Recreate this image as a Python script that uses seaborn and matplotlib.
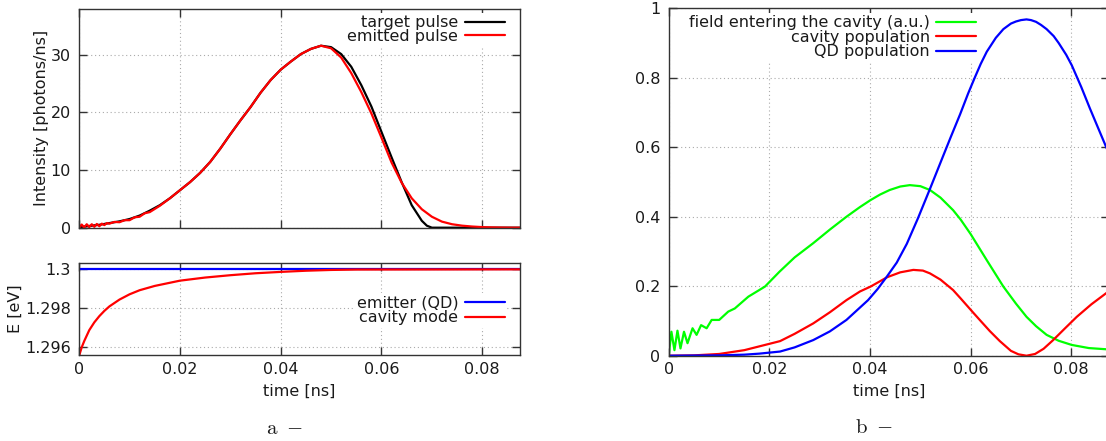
import matplotlib.pyplot as plt
import seaborn as sns

# ---- panel a (top): intensity of target / emitted pulse ----
t_target = [0, 0.002, 0.004, 0.006, 0.008, 0.010, 0.012, 0.014, 0.016, 0.018,
            0.020, 0.022, 0.024, 0.026, 0.028, 0.030, 0.032, 0.034, 0.036, 0.038,
            0.040, 0.042, 0.044, 0.046, 0.048, 0.050, 0.052, 0.054, 0.056, 0.058,
            0.060, 0.062, 0.064, 0.066, 0.068, 0.069, 0.070, 0.0875]
i_target = [0.1, 0.3, 0.5, 0.8, 1.1, 1.5, 2.1, 2.95, 3.9, 5.1,
            6.5, 7.9, 9.5, 11.4, 13.7, 16.2, 18.6, 20.9, 23.4, 25.6,
            27.4, 28.8, 30.1, 31.0, 31.55, 31.3, 30.1, 27.9, 24.7, 21.0,
            16.6, 12.2, 7.9, 3.9, 1.2, 0.35, 0.0, 0.0]

t_emit = [0, 0.0005, 0.001, 0.0015, 0.002, 0.0025, 0.003, 0.0035, 0.004, 0.0045,
          0.005, 0.0055, 0.006, 0.007, 0.008, 0.009, 0.010, 0.011, 0.012, 0.013,
          0.014, 0.016, 0.018, 0.020, 0.022, 0.024, 0.026, 0.028, 0.030, 0.032,
          0.034, 0.036, 0.038, 0.040, 0.042, 0.044, 0.046, 0.048, 0.050, 0.052,
          0.054, 0.056, 0.058, 0.060, 0.062, 0.064, 0.066, 0.068, 0.070, 0.072,
          0.074, 0.076, 0.078, 0.080, 0.082, 0.084, 0.086, 0.0875]
i_emit = [0.0, 0.55, 0.05, 0.6, 0.1, 0.6, 0.15, 0.65, 0.25, 0.7,
          0.45, 0.8, 0.7, 1.0, 0.95, 1.3, 1.3, 1.8, 1.9, 2.5,
          2.7, 3.8, 5.1, 6.5, 7.9, 9.5, 11.4, 13.7, 16.2, 18.6,
          20.9, 23.4, 25.6, 27.4, 28.8, 30.1, 31.0, 31.55, 31.1, 29.5,
          26.8, 23.5, 19.8, 15.6, 11.3, 7.8, 5.1, 3.2, 1.9, 1.05,
          0.6, 0.35, 0.2, 0.1, 0.05, 0.02, 0.0, 0.0]

# ---- panel a (bottom): energies ----
t_qd = [0, 0.0875]
e_qd = [1.3, 1.3]
t_mode = [0, 0.0005, 0.001, 0.002, 0.003, 0.004, 0.005, 0.006, 0.008, 0.010,
          0.012, 0.015, 0.020, 0.025, 0.030, 0.035, 0.040, 0.045, 0.050, 0.055, 0.0875]
e_mode = [1.29558, 1.29600, 1.29632, 1.29688, 1.29728, 1.29760, 1.29787, 1.29810, 1.29845, 1.29872,
          1.29893, 1.29915, 1.29942, 1.29958, 1.29970, 1.29980, 1.29987, 1.29993, 1.29997, 1.29999, 1.3]

# ---- panel b: populations ----
t_field = [0, 0.0005, 0.0011, 0.0017, 0.0023, 0.003, 0.0037, 0.0047, 0.0055, 0.0064,
           0.0075, 0.0085, 0.010, 0.0118, 0.0131, 0.0158, 0.0191, 0.022, 0.025, 0.0287,
           0.032, 0.0353, 0.038, 0.0401, 0.042, 0.0439, 0.046, 0.0479, 0.050, 0.0519,
           0.054, 0.0565, 0.058, 0.060, 0.0632, 0.0665, 0.069, 0.0711, 0.073, 0.0751,
           0.0775, 0.0801, 0.0835, 0.0875]
v_field = [0.005, 0.069, 0.016, 0.072, 0.021, 0.069, 0.036, 0.079, 0.060, 0.088,
           0.079, 0.103, 0.103, 0.127, 0.136, 0.170, 0.199, 0.242, 0.283, 0.324,
           0.363, 0.400, 0.428, 0.448, 0.464, 0.477, 0.487, 0.491, 0.488, 0.477,
           0.455, 0.419, 0.392, 0.350, 0.275, 0.199, 0.150, 0.112, 0.085, 0.060,
           0.043, 0.031, 0.022, 0.018]

t_cav = [0, 0.005, 0.010, 0.015, 0.0191, 0.0221, 0.025, 0.0287, 0.032, 0.0353,
         0.038, 0.0401, 0.0434, 0.046, 0.0486, 0.0505, 0.0519, 0.054, 0.0565, 0.058,
         0.0605, 0.0618, 0.0638, 0.0658, 0.068, 0.0695, 0.0711, 0.0728, 0.0745, 0.0764,
         0.0787, 0.0811, 0.084, 0.0875]
v_cav = [0.0, 0.001, 0.005, 0.016, 0.031, 0.042, 0.063, 0.093, 0.125, 0.160,
         0.185, 0.199, 0.226, 0.240, 0.247, 0.245, 0.237, 0.219, 0.189, 0.165,
         0.124, 0.103, 0.071, 0.042, 0.014, 0.004, 0.0, 0.005, 0.020, 0.045,
         0.078, 0.112, 0.148, 0.186]

t_pop = [0, 0.010, 0.015, 0.018, 0.0221, 0.025, 0.0287, 0.032, 0.0353, 0.0396,
         0.0415, 0.0433, 0.0453, 0.0473, 0.0495, 0.0519, 0.0545, 0.056, 0.0579, 0.0595,
         0.0608, 0.062, 0.0632, 0.065, 0.0665, 0.068, 0.069, 0.070, 0.0711, 0.072,
         0.073, 0.074, 0.0751, 0.0765, 0.0775, 0.079, 0.0801, 0.082, 0.0837, 0.0855,
         0.0869, 0.0875]
v_pop = [0.0, 0.001, 0.003, 0.006, 0.012, 0.024, 0.045, 0.070, 0.103, 0.160,
         0.192, 0.227, 0.268, 0.322, 0.395, 0.480, 0.574, 0.628, 0.695, 0.755,
         0.800, 0.840, 0.875, 0.915, 0.940, 0.956, 0.962, 0.966, 0.968, 0.966,
         0.961, 0.952, 0.940, 0.920, 0.900, 0.866, 0.836, 0.773, 0.712, 0.650,
         0.602, 0.582]

time_ticks = [0, 0.02, 0.04, 0.06, 0.08]
time_labels = ['0', '0.02', '0.04', '0.06', '0.08']

sns.set_style('ticks')
plt.rcParams['font.family'] = ['DejaVu Sans']
plt.rcParams['mathtext.fontset'] = 'cm'
FS = 11.5
TXT = '#1a1a1a'
EDGE = '#333333'

fig = plt.figure(figsize=(11.06, 4.41), dpi=100)
axI = fig.add_axes([0.0716, 0.4837, 0.3986, 0.4970])
axE = fig.add_axes([0.0716, 0.1939, 0.3986, 0.2090])
axP = fig.add_axes([0.6048, 0.1934, 0.3979, 0.7878])


def style(ax):
    ax.grid(True, color='#aaaaaa', linestyle=(0, (1, 2.5)), linewidth=0.8)
    ax.tick_params(direction='in', length=6, width=1, top=True, right=True,
                   color=EDGE, labelsize=FS, labelcolor=TXT)
    ax.tick_params(axis='y', pad=6)
    ax.tick_params(axis='x', pad=4.5)
    for s in ax.spines.values():
        s.set_color(EDGE)
        s.set_linewidth(1.0)
    ax.set_xlim(0, 0.0875)
    ax.set_xticks(time_ticks)


def legend(ax, anchor, spacing):
    leg = ax.legend(loc='upper right', bbox_to_anchor=anchor, markerfirst=False,
                    fontsize=FS, handlelength=2.5, handletextpad=0.4,
                    labelspacing=spacing, borderpad=0.15, borderaxespad=0,
                    frameon=True, fancybox=False, framealpha=1,
                    facecolor='white', edgecolor='none')
    for txt in leg.get_texts():
        txt.set_color(TXT)
    return leg


# panel a top
sns.lineplot(x=t_target, y=i_target, ax=axI, color='black', lw=1.6,
             label='target pulse', estimator=None, sort=False)
sns.lineplot(x=t_emit, y=i_emit, ax=axI, color='#ff0000', lw=1.6,
             label='emitted pulse', estimator=None, sort=False)
style(axI)
axI.set_ylim(0, 38)
axI.set_yticks([0, 10, 20, 30])
axI.set_xticklabels([])
axI.set_xlabel('')
axI.set_ylabel('Intensity [photons/ns]', fontsize=FS, color=TXT, va='center')
axI.yaxis.set_label_coords(-0.086, 0.503)
legend(axI, (0.9703, 0.9795), -0.11)

# panel a bottom
sns.lineplot(x=t_qd, y=e_qd, ax=axE, color='#0000ff', lw=1.6,
             label='emitter (QD)', estimator=None, sort=False)
sns.lineplot(x=t_mode, y=e_mode, ax=axE, color='#ff0000', lw=1.6,
             label='cavity mode', estimator=None, sort=False)
style(axE)
axE.set_ylim(1.29558, 1.30031)
axE.set_yticks([1.296, 1.298, 1.3])
axE.set_yticklabels(['1.296', '1.298', '1.3'])
axE.set_xticklabels(time_labels)
axE.set_ylabel('E [eV]', fontsize=FS, color=TXT, va='center')
axE.yaxis.set_label_coords(-0.1445, 0.504)
axE.set_xlabel('time [ns]', fontsize=FS, color=TXT, va='center')
axE.xaxis.set_label_coords(0.5, -0.393)
legend(axE, (0.9703, 0.681), 0.0)

# panel b
sns.lineplot(x=t_field, y=v_field, ax=axP, color='#00ff00', lw=1.6,
             label='field entering the cavity (a.u.)', estimator=None, sort=False)
sns.lineplot(x=t_cav, y=v_cav, ax=axP, color='#ff0000', lw=1.6,
             label='cavity population', estimator=None, sort=False)
sns.lineplot(x=t_pop, y=v_pop, ax=axP, color='#0000ff', lw=1.6,
             label='QD population', estimator=None, sort=False)
style(axP)
axP.set_ylim(0, 1)
axP.set_yticks([0, 0.2, 0.4, 0.6, 0.8, 1])
axP.set_yticklabels(['0', '0.2', '0.4', '0.6', '0.8', '1'])
axP.set_xticklabels(time_labels)
axP.set_ylabel('')
axP.set_xlabel('time [ns]', fontsize=FS, color=TXT, va='center')
axP.xaxis.set_label_coords(0.5, -0.1036)
legend(axP, (0.7033, 0.9868), -0.03)

fig.text(284 / 1106, 1 - 428 / 441, r'$\mathrm{a}\ -$', fontsize=15,
         ha='center', va='center', color=TXT)
fig.text(874 / 1106, 1 - 427 / 441, r'$\mathrm{b}\ -$', fontsize=15,
         ha='center', va='center', color=TXT)

plt.savefig('out.png', dpi=100)
